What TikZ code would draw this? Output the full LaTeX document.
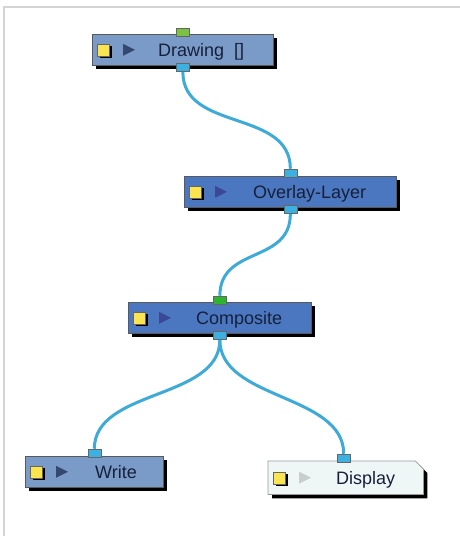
\documentclass[tikz,border=0pt]{standalone}
\usepackage{fontspec}
\setmainfont{Liberation Sans}
\usetikzlibrary{shadows}
\definecolor{nodelight}{RGB}{122,155,200}
\definecolor{nodedark}{RGB}{74,119,192}
\definecolor{nodepale}{RGB}{238,246,246}
\definecolor{wireblue}{RGB}{61,170,216}
\definecolor{portblue}{RGB}{60,176,224}
\definecolor{portgreen}{RGB}{124,194,66}
\definecolor{portlime}{RGB}{45,181,45}
\definecolor{textnavy}{RGB}{22,32,58}
\definecolor{iconyellow}{RGB}{250,228,80}
\definecolor{framegray}{RGB}{212,212,212}
\definecolor{playlight}{RGB}{52,72,112}
\definecolor{playdark}{RGB}{58,72,150}
\definecolor{playgray}{RGB}{200,205,205}

\tikzset{
  modshadow/.style={drop shadow={shadow xshift=4pt, shadow yshift=-4pt, fill=black, opacity=1}},
  module/.style={rectangle, draw=black!65, line width=0.7pt, inner sep=0pt,
    anchor=north west, minimum height=31pt, modshadow},
  modlabel/.style={anchor=base west, inner sep=0pt, text=textnavy,
    font=\fontsize{18}{20}\selectfont},
  visbox/.style={rectangle, draw=black!60, line width=0.4pt, fill=iconyellow,
    minimum size=12pt, inner sep=0pt,
    drop shadow={shadow xshift=2.5pt, shadow yshift=-2.5pt, fill=black, opacity=1}},
  port/.style={rectangle, draw=black!60, line width=0.5pt, fill=portblue,
    minimum width=13pt, minimum height=8pt, inner sep=0pt},
  wire/.style={wireblue, line width=3pt},
}

\begin{document}
\begin{tikzpicture}[x=1pt, y=-1pt]
\useasboundingbox (0,0) rectangle (460,536);
\draw[framegray, line width=2pt] (4,536) -- (4,6.5) -- (460,6.5);

% modules
\node[module, fill=nodelight, minimum width=181pt] (drawing) at (92,34) {};
\node[module, fill=nodedark, minimum width=212pt] (overlay) at (184,176) {};
\node[module, fill=nodedark, minimum width=183pt] (composite) at (128,302) {};
\node[module, fill=nodelight, minimum width=138pt] (write) at (25,456) {};
\node[rectangle, inner sep=0pt, anchor=north west, minimum width=155pt,
  minimum height=33pt] (display) at (268,461) {};
\draw[draw=black!40, line width=0.7pt, fill=nodepale, modshadow]
  (display.south west) -- (display.north west) -- ([xshift=-8pt]display.north east)
  -- ([yshift=-8pt]display.north east) -- (display.south east) -- cycle;

% labels
\node[modlabel] (drawing-txt) at ([xshift=66pt,yshift=-7pt]drawing.west) {Drawing\ \ []};
\node[modlabel] (overlay-txt) at ([xshift=69pt,yshift=-7pt]overlay.west) {Overlay-Layer};
\node[modlabel] (composite-txt) at ([xshift=68pt,yshift=-7pt]composite.west) {Composite};
\node[modlabel] (write-txt) at ([xshift=70pt,yshift=-7pt]write.west) {Write};
\node[modlabel] (display-txt) at ([xshift=68pt,yshift=-7pt]display.west) {Display};

% enable and play icons
\foreach \m/\tri in {drawing/playlight, overlay/playdark, composite/playdark,
    write/playlight, display/playgray} {
  \node[visbox] (\m-vis) at ([xshift=11pt]\m.west) {};
  \fill[\tri] ([xshift=31pt,yshift=6pt]\m.west) -- ++(12pt,-6pt) -- ++(-12pt,-6pt) -- cycle;
}

% ports
\node[port, fill=portgreen] (drawing-in) at ([yshift=2pt]drawing.north) {};
\node[port] (drawing-out) at ([yshift=-2pt]drawing.south) {};
\node[port] (overlay-in) at ([yshift=3pt]overlay.north) {};
\node[port] (overlay-out) at ([yshift=-2pt]overlay.south) {};
\node[port, fill=portlime] (composite-in) at ([yshift=2pt]composite.north) {};
\node[port] (composite-out) at ([yshift=-2pt]composite.south) {};
\node[port] (write-in) at ([yshift=3pt]write.north) {};
\node[port] (display-in) at ([yshift=3pt,xshift=-2pt]display.north) {};

% wires
\draw[wire] (drawing-out.south) .. controls +(0,60) and +(0,-60) .. (overlay-in.north);
\draw[wire] (overlay-out.south) .. controls +(0,50) and +(0,-50) .. (composite-in.north);
\draw[wire] (composite-out.south) .. controls +(0,60) and +(0,-60) .. (write-in.north);
\draw[wire] (composite-out.south) .. controls +(0,60) and +(0,-60) .. (display-in.north);
\end{tikzpicture}
\end{document}
